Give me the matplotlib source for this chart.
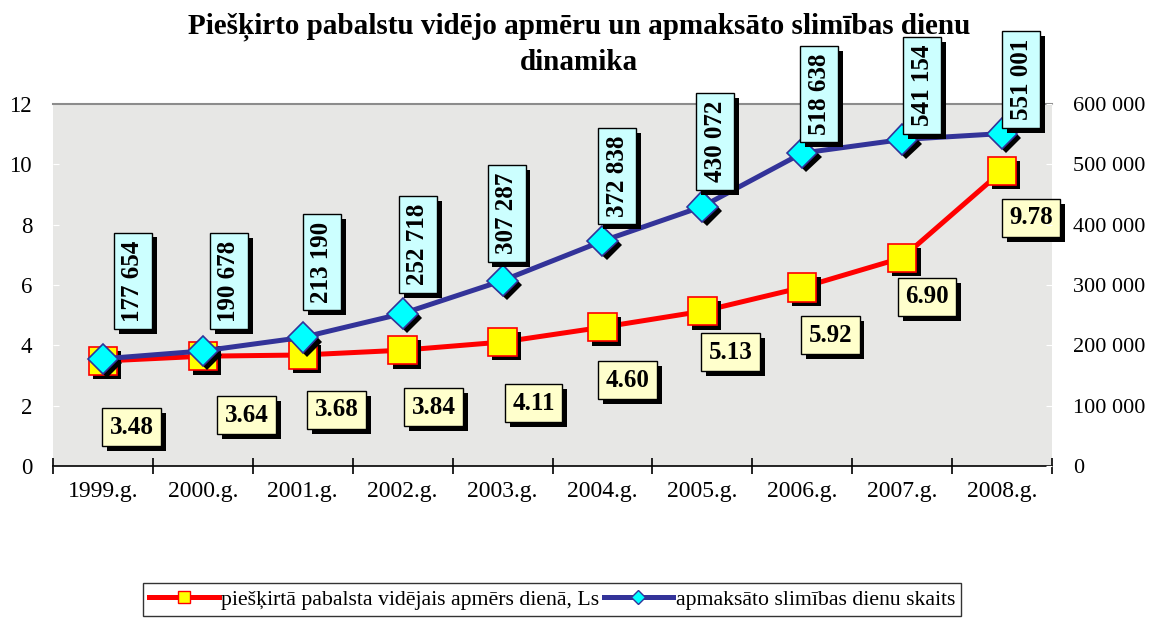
import matplotlib
matplotlib.use("Agg")
import matplotlib.pyplot as plt
import matplotlib.patheffects as pe
from matplotlib.lines import Line2D
import numpy as np

# ---- data ----
years = ["1999.g.", "2000.g.", "2001.g.", "2002.g.", "2003.g.",
         "2004.g.", "2005.g.", "2006.g.", "2007.g.", "2008.g."]
avg_benefit = [3.48, 3.64, 3.68, 3.84, 4.11, 4.60, 5.13, 5.92, 6.90, 9.78]
paid_days = [177654, 190678, 213190, 252718, 307287,
             372838, 430072, 518638, 541154, 551001]
left_ticks = [0, 2, 4, 6, 8, 10, 12]
right_ticks = [0, 100000, 200000, 300000, 400000, 500000, 600000]
title_line1 = "Piešķirto pabalstu vidējo apmēru un apmaksāto slimības dienu"
title_line2 = "dinamika"
label_red = "piešķirtā pabalsta vidējais apmērs dienā, Ls"
label_blue = "apmaksāto slimības dienu skaits"

# label offsets (pixels) relative to the points - styling only
red_off = [(29, -66), (44, -59), (34, -55), (31, -57), (31, -61),
           (25, -53), (28, -41), (28, -48), (25, -39), (29, -47)]
blue_off = [(30, 78), (26, 70), (19, 75), (15, 69), (4, 67),
            (15, 65), (13, 65), (17, 59), (20, 54), (19, 54)]

plt.rcParams['font.family'] = ['Liberation Serif', 'DejaVu Serif']

fig = plt.figure(figsize=(11.49, 6.21), dpi=100)
ax = fig.add_axes([53/1149, 1-466/621, (1052-53)/1149, (466-104)/621])
ax2 = ax.twinx()

x = np.arange(len(years))
ax.set_xlim(-0.5, len(years)-0.5)
ax.set_ylim(0, 12)
ax2.set_ylim(0, 600000)
ax.set_facecolor('#e7e7e5')

# spines
for s in ['left', 'right']:
    ax.spines[s].set_visible(False)
    ax2.spines[s].set_visible(False)
ax2.spines['top'].set_visible(False)
ax2.spines['bottom'].set_visible(False)
ax.spines['top'].set_color('#8c8c8c')
ax.spines['top'].set_linewidth(1.5)
ax.spines['bottom'].set_color('black')
ax.spines['bottom'].set_linewidth(1.2)

# x ticks
ax.set_xticks(np.arange(-0.5, len(years)), minor=False)
ax.set_xticklabels([])
ax.set_xticks(x, minor=True)
ax.set_xticklabels(years, minor=True, fontsize=17)
ax.tick_params(axis='x', which='major', direction='inout', length=11, width=1.2, color='black')
ax.tick_params(axis='x', which='minor', length=0, pad=11)

ax.set_yticks(left_ticks)
ax.set_yticklabels([str(t) for t in left_ticks], fontsize=16.5)
ax.tick_params(axis='y', length=4, direction='in', color='white', pad=15)
ax2.set_yticks(right_ticks)
ax2.set_yticklabels([f"{t:,}".replace(",", " ") for t in right_ticks], fontsize=16)
ax2.tick_params(axis='y', length=4, direction='in', color='white', pad=15)

mshadow = [pe.SimplePatchShadow(offset=(3, -3), shadow_rgbFace='black', alpha=1.0), pe.Normal()]

# lines
ax.plot(x, avg_benefit, color='#ff0000', lw=3.6, zorder=3)
ax.plot(x, avg_benefit, ls='none', marker='s', ms=20.5, mfc='#ffff00', mec='#ff0000',
        mew=1.2, zorder=4, path_effects=mshadow)
ax2.plot(x, paid_days, color='#333399', lw=3.6, zorder=3)
ax2.plot(x, paid_days, ls='none', marker='D', ms=15.5, mfc='#00ffff', mec='#333399',
         mew=1.2, zorder=4, path_effects=mshadow)

box_shadow = [pe.SimplePatchShadow(offset=(3.5, -3.5), shadow_rgbFace='black', alpha=1.0), pe.Normal()]

for i, v in enumerate(avg_benefit):
    t = ax.annotate(f"{v:.2f}", (x[i], v), xytext=red_off[i], textcoords='offset pixels',
                    ha='center', va='center', fontsize=18, fontweight='bold', zorder=6,
                    bbox=dict(boxstyle='square,pad=0.3', fc='#ffffcc', ec='black', lw=1))
    t.get_bbox_patch().set_path_effects(box_shadow)

for i, v in enumerate(paid_days):
    t = ax2.annotate(f"{v:,}".replace(",", " "), (x[i], v), xytext=blue_off[i],
                     textcoords='offset pixels', rotation=90,
                     ha='center', va='center', fontsize=18, fontweight='bold', zorder=6,
                     bbox=dict(boxstyle='square,pad=0.3', fc='#ccffff', ec='black', lw=1),
                     annotation_clip=False)
    t.get_bbox_patch().set_path_effects(box_shadow)

ax2.patch.set_visible(False)

fig.text(579/1149, 1-27/621, title_line1, ha='center', va='center', fontsize=21,
         fontweight='bold')
fig.text(579/1149, 1-63/621, title_line2, ha='center', va='center', fontsize=21,
         fontweight='bold')

h1 = Line2D([], [], color='#ff0000', lw=3.6, marker='s', ms=9, mfc='#ffff00', mec='#ff0000', mew=1)
h2 = Line2D([], [], color='#333399', lw=3.6, marker='D', ms=7, mfc='#00ffff', mec='#333399', mew=1)
leg = fig.legend([h1, h2], [label_red, label_blue], loc='upper center',
                 bbox_to_anchor=(552/1149, 1-572/621), ncol=2, fontsize=15.7,
                 frameon=True, fancybox=False, edgecolor='black', handlelength=3.2,
                 handletextpad=0.1, columnspacing=0.2, borderpad=0.3)
leg.get_frame().set_linewidth(1)

fig.savefig("out.png", dpi=100)
